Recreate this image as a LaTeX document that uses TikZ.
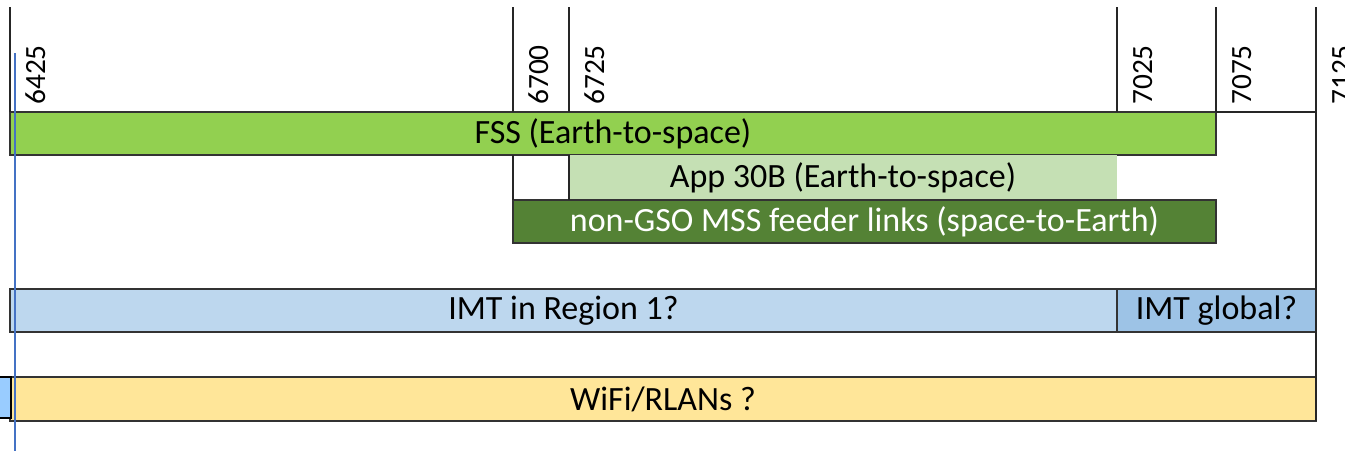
\documentclass[tikz,border=0pt]{standalone}
\usepackage{fontspec}
\setmainfont{Carlito}
\definecolor{fssgreen}{HTML}{92D050}
\definecolor{appgreen}{HTML}{C5E0B4}
\definecolor{mssgreen}{HTML}{548235}
\definecolor{imtone}{HTML}{BDD7EE}
\definecolor{imtall}{HTML}{9DC3E6}
\definecolor{rlanyellow}{HTML}{FFE699}
\definecolor{markblue}{HTML}{99CCFF}
\definecolor{cursorblue}{HTML}{4472C4}
\begin{document}
\begin{tikzpicture}[x=0.75pt,y=-0.75pt,
  band/.style={draw=black!80,line width=0.8pt},
  grid/.style={black!85,line width=0.8pt},
  bandtext/.style={font=\fontsize{25.5}{30}\selectfont,inner sep=0pt,text=black},
  ticktext/.style={font=\fontsize{22}{26}\selectfont,inner sep=0pt,text=black}]
\useasboundingbox (0,0) rectangle (1345,451);
% bands
\draw[band,fill=fssgreen] (10,112) rectangle (1216,155)
  node[bandtext,midway] (fss) {FSS (Earth-to-space)};
\fill[appgreen] (569,155) rectangle (1117,200)
  node[bandtext,midway] (app) {App 30B (Earth-to-space)};
\draw[band,fill=mssgreen] (513,200) rectangle (1216,243)
  node[bandtext,midway,text=white] (mss) {non-GSO MSS feeder links (space-to-Earth)};
\draw[band,fill=imtone] (10,289) rectangle (1117,332)
  node[bandtext,midway] (imtr1) {IMT in Region 1?};
\draw[band,fill=imtall] (1117,289) rectangle (1316,332)
  node[bandtext,midway] (imtgl) {IMT global?};
\draw[band,fill=rlanyellow] (10,377) rectangle (1316,421)
  node[bandtext,midway] (rlan) {WiFi/RLANs ?};
% frequency ticks
\foreach \f/\x in {6425/10,6700/513,6725/569,7025/1117,7075/1216,7125/1316}{
  \draw[grid] (\x,7) -- (\x,112);
  \node[ticktext,rotate=90,anchor=base west] (f\f) at (\x+35,105) {\f};
}
\draw[grid] (1216,112) -- (1316,112);
\draw[grid] (513,155) -- (513,200);
\draw[grid] (569,155) -- (569,200);
\draw[grid] (1316,112) -- (1316,421);
% marker box and cursor
\draw[fill=markblue,line width=1.6pt] (-6,377) rectangle (11,418);
\draw[cursorblue,line width=1.1pt] (15,53) -- (15,451);
\end{tikzpicture}
\end{document}
